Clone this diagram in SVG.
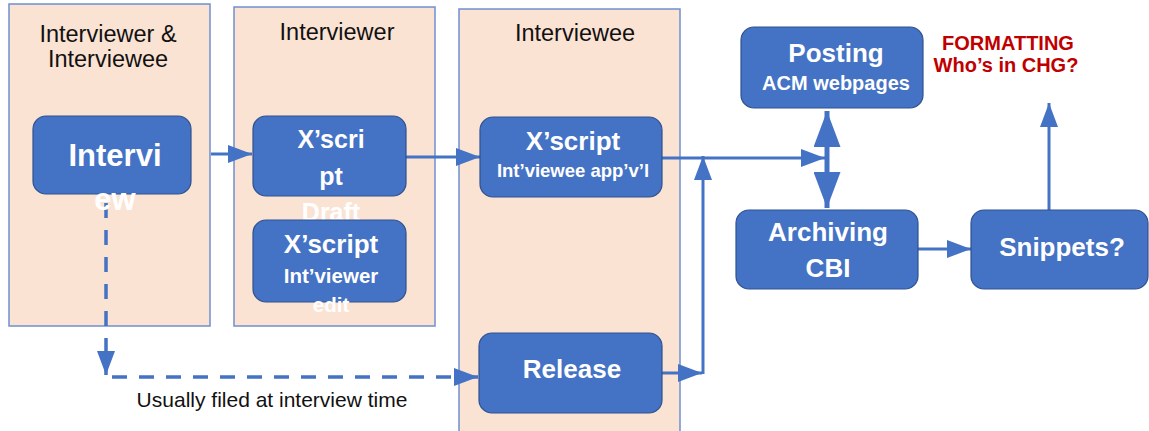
<svg xmlns="http://www.w3.org/2000/svg" width="1149" height="431" viewBox="0 0 1149 431">
<defs>
<style>
.panel{fill:#FBE3D4;stroke:#6F90CF;stroke-width:1.5}
.node{fill:#4472C4;stroke:#2F528F;stroke-width:1.2}
.hdr{font-family:"Liberation Sans",Arial,sans-serif;font-size:23.5px;fill:#111;text-anchor:middle}
.nt{font-family:"Liberation Sans",Arial,sans-serif;font-weight:bold;fill:#fff;text-anchor:middle}
.red{font-family:"Liberation Sans",Arial,sans-serif;font-weight:bold;font-size:20px;fill:#C00000;text-anchor:middle}
.lbl{font-family:"Liberation Sans",Arial,sans-serif;font-size:21px;fill:#111;text-anchor:middle}
.ln{fill:none;stroke:#4472C4;stroke-width:3}
.dash{fill:none;stroke:#4472C4;stroke-width:3.5;stroke-dasharray:15 12}
</style>
<marker id="arr" markerUnits="userSpaceOnUse" markerWidth="24" markerHeight="18" viewBox="0 0 24 18" refX="24" refY="9" orient="auto-start-reverse">
<path d="M0,0 L24,9 L0,18 Z" fill="#4472C4"/>
</marker>
<marker id="arrBig" markerUnits="userSpaceOnUse" markerWidth="36" markerHeight="27" viewBox="0 0 36 27" refX="36" refY="13.5" orient="auto-start-reverse">
<path d="M0,0 L36,13.5 L0,27 Z" fill="#4472C4"/>
</marker>
</defs>
<rect width="1149" height="431" fill="#fff"/>

<g id="panel-both">
<rect class="panel" x="9" y="4" width="201" height="322"/>
<text class="hdr" x="108" y="42">Interviewer &amp;</text>
<text class="hdr" x="108" y="67">Interviewee</text>
</g>
<g id="panel-interviewer">
<rect class="panel" x="234" y="7" width="201" height="319"/>
<text class="hdr" x="337" y="40">Interviewer</text>
</g>
<g id="panel-interviewee">
<rect class="panel" x="459" y="9" width="221" height="425"/>
<text class="hdr" x="575" y="41">Interviewee</text>
</g>

<g id="connectors">
<path class="ln" d="M211,154 L252,154" marker-end="url(#arr)"/>
<path class="ln" d="M406,157 L480,157" marker-end="url(#arr)"/>
<path class="ln" d="M662,158 L825,158" marker-end="url(#arr)"/>
<path class="ln" d="M662,373 L702,373" marker-end="url(#arr)"/>
<path class="ln" d="M703,374 L703,156" marker-end="url(#arr)"/>
<path class="ln" style="stroke-width:5" d="M827,111 L827,208" marker-start="url(#arrBig)" marker-end="url(#arrBig)"/>
<path class="ln" d="M918,249 L971,249" marker-end="url(#arr)"/>
<path class="ln" d="M1049,210 L1049,103" marker-end="url(#arr)"/>
<path class="dash" d="M106,203 L106,375" marker-end="url(#arr)"/>
<path class="dash" d="M112,377 L478,377" marker-end="url(#arr)"/>
<text class="lbl" x="272" y="407">Usually filed at interview time</text>
</g>

<g id="node-interview">
<rect class="node" x="33" y="116" width="158" height="78" rx="13"/>
<text class="nt" x="115" y="166" font-size="31">Intervi</text>
<text class="nt" x="115" y="210" font-size="31">ew</text>
</g>
<g id="node-draft">
<rect class="node" x="253" y="116" width="153" height="80" rx="13"/>
<text class="nt" x="331" y="148" font-size="25">X’scri</text>
<text class="nt" x="331" y="185" font-size="25">pt</text>
<text class="nt" x="331" y="221" font-size="25">Draft</text>
</g>
<g id="node-edit">
<rect class="node" x="253" y="220" width="153" height="82" rx="13"/>
<text class="nt" x="331" y="253" font-size="26">X’script</text>
<text class="nt" x="331" y="283" font-size="20.5">Int’viewer</text>
<text class="nt" x="331" y="312" font-size="20.5">edit</text>
</g>
<g id="node-approval">
<rect class="node" x="480" y="117" width="182" height="80" rx="13"/>
<text class="nt" x="573" y="150" font-size="26">X’script</text>
<text class="nt" x="573" y="177" font-size="18.5">Int’viewee app’v’l</text>
</g>
<g id="node-release">
<rect class="node" x="479" y="333" width="183" height="80" rx="13"/>
<text class="nt" x="572" y="378" font-size="26">Release</text>
</g>
<g id="node-posting">
<rect class="node" x="741" y="27" width="182" height="81" rx="13"/>
<text class="nt" x="836" y="62" font-size="26">Posting</text>
<text class="nt" x="836" y="90" font-size="20">ACM webpages</text>
</g>
<g id="node-archiving">
<rect class="node" x="736" y="210" width="182" height="79" rx="13"/>
<text class="nt" x="828" y="241" font-size="26">Archiving</text>
<text class="nt" x="828" y="277" font-size="26">CBI</text>
</g>
<g id="node-snippets">
<rect class="node" x="971" y="210" width="177" height="79" rx="13"/>
<text class="nt" x="1062" y="256" font-size="26">Snippets?</text>
</g>
<g id="note-formatting">
<text class="red" x="1008" y="50">FORMATTING</text>
<text class="red" x="1006" y="72">Who’s in CHG?</text>
</g>
</svg>
